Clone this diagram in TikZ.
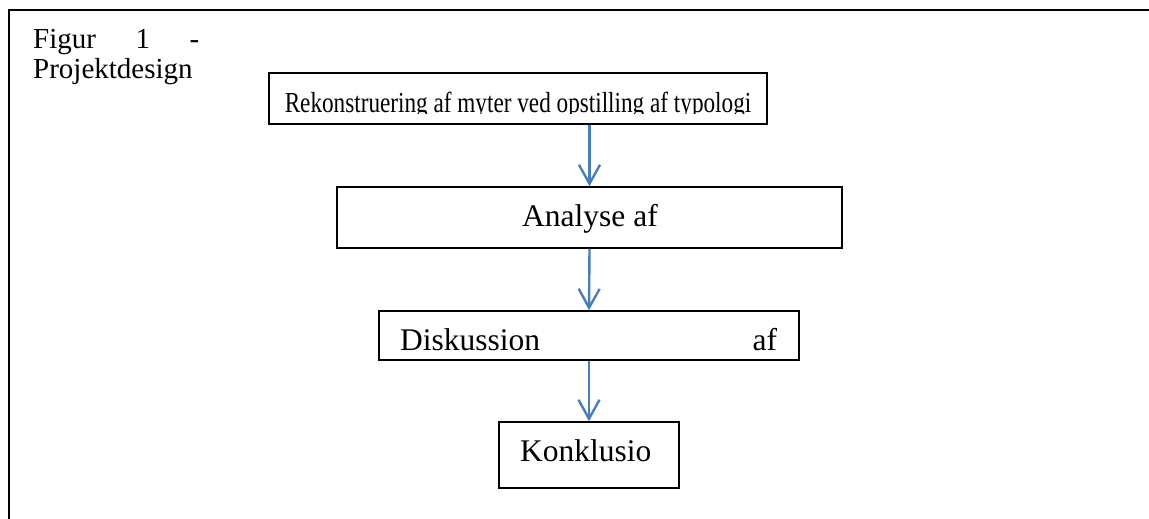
\documentclass[tikz,border=0pt]{standalone}
\usepackage{fontspec}
\setmainfont{Liberation Serif}
\usetikzlibrary{arrows.meta}
\definecolor{flowblue}{RGB}{74,126,187}
\newcommand{\boxfont}{\fontsize{31.5}{36}\selectfont}
\newcommand{\capfont}{\fontsize{29}{30}\selectfont}

\begin{document}
\begin{tikzpicture}[x=1pt,y=-1pt,
    stepbox/.style={rectangle, draw, line width=1.5pt, inner sep=+0pt},
    steptext/.style={inner sep=+0pt, anchor=base west, font=\boxfont},
    flow/.style={draw=flowblue, line width=2.4pt, -{Straight Barb[length=19pt,width=21pt,line width=2.4pt]}}]
        \useasboundingbox (0,0) rectangle (1149,519);

        % frame and caption
        \draw[line width=1.5pt] (1149,10) -- (9,10) -- (9,519);
        \node[inner sep=+0pt, anchor=base west, font=\capfont] (fig) at (33,49) {\makebox[166pt][s]{Figur 1 -}};
        \node[inner sep=+0pt, anchor=base west, font=\capfont] (proj) at (33,78) {Projektdesign};

        % boxes
        \node[stepbox, minimum width=498pt, minimum height=51pt] (rekon) at (518,98.5) {};
        \node[stepbox, minimum width=505pt, minimum height=61pt] (analyse) at (589.5,217.5) {};
        \node[stepbox, minimum width=420pt, minimum height=49pt] (disk) at (589,335.5) {};
        \node[stepbox, minimum width=180pt, minimum height=66pt] (konk) at (589,455) {};

        % texts, the first one cut off at the bottom
        \begin{scope}
            \clip (rekon.south west) ++(0,-11) rectangle (rekon.north east);
            \node[inner sep=+0pt, anchor=base, font=\capfont] (rekontext) at (518,112)
                {\scalebox{0.8}[1]{Rekonstruering af myter ved opstilling af typologi}};
        \end{scope}
        \node[steptext] (analysetext) at (522,226) {Analyse af};
        \node[steptext] (disktext) at (400,350) {\makebox[377pt][s]{Diskussion af}};
        \node[steptext] (konktext) at (520,461) {Konklusio};

        % arrows
        \draw[flow] (rekon.south -| analyse.north) -- (analyse.north);
        \draw[flow] (analyse.south) -- (disk.north);
        \draw[flow] (disk.south) -- (konk.north);

\end{tikzpicture}
\end{document}
